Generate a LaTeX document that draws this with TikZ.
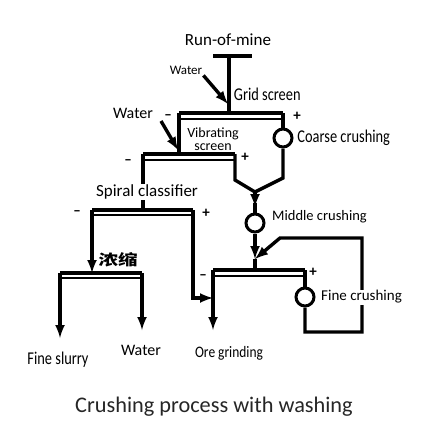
\documentclass[tikz,border=0pt]{standalone}
\usepackage{fontspec}
\setmainfont{Carlito}
\newfontfamily\cjk{Noto Sans CJK SC}
\usepackage{tikz}
\usepackage{xcolor}
\usetikzlibrary{arrows,positioning}

\tikzset{
    flow/.style={line width=3.4pt, line join=miter},
    feed/.style={flow, -latex},
    deck/.style={line width=2pt},
    crusher/.style={circle, draw, line width=3pt, fill=white, minimum size=18pt, inner sep=0pt},
    lbl/.style={inner sep=1pt, fill=white},
    narrow/.style={lbl, font=\fontsize{18}{18}\selectfont, xscale=0.8},
    sign/.style={inner sep=0pt, font=\fontsize{15}{15}\selectfont\bfseries}
}

\begin{document}
\begin{tikzpicture}[x=1pt,y=1pt]
            \useasboundingbox (0,0) rectangle (434,-437);

            \node[font=\fontsize{17}{17}\selectfont] (rom) at (228,-40) {Run-of-mine};
            \coordinate (romL) at (213,-56);
            \coordinate (romR) at (252,-56);
            \coordinate (rom0) at (229,-56);
            \draw[flow] (romL) -- (romR);

            \coordinate (gridL) at (179,-113);
            \coordinate (gridR) at (283,-113);
            \coordinate (grid0) at (229,-113);
            \draw[flow] (gridL) -- (gridR);
            \draw[deck] ([yshift=-6pt]gridL) -- ([yshift=-6pt]gridR);
            \draw[flow] (rom0) -- (grid0);
            \node[narrow, anchor=west] (gridtxt) at (233,-94) {Grid screen};
            \node[font=\fontsize{13}{13}\selectfont, inner sep=1pt] (water1) at (186,-70) {Water};
            \draw[feed] (water1.south east) -- (228,-104);
            \node[sign] (gridplus) at (297,-116) {+};
            \node[sign] (gridminus) at (168,-117) {--};

            \node[font=\fontsize{16}{16}\selectfont, inner sep=1pt] (water2) at (133,-113) {Water};
            \draw[feed] (161,-121) -- (178,-150);

            \node[crusher] (coarse) at (283,-138) {};
            \node[narrow, anchor=west] (coarsetxt) at ([xshift=3pt]coarse.east) {Coarse crushing};

            \coordinate (vibL) at (143,-154);
            \coordinate (vibR) at (235,-154);
            \draw[flow] (vibL) -- (vibR);
            \draw[deck] ([yshift=-6pt]vibL) -- ([yshift=-6pt]vibR);
            \draw[flow] (gridL) -- (gridL |- vibL);
            \node[align=center, font=\fontsize{14}{13.5}\selectfont, inner sep=0pt] (vibtxt) at (213,-139) {Vibrating\\screen};
            \node[sign] (vibplus) at (245,-157) {+};
            \node[sign] (vibminus) at (128,-162) {--};

            \coordinate (hop) at (255,-192);
            \draw[flow] (gridR) -- (coarse);
            \draw[flow] (coarse) -- (283,-178) -- (hop);
            \draw[flow] (vibR) -- (235,-180) -- (hop);

            \node[crusher] (middle) at (255,-223) {};
            \node[font=\fontsize{14.5}{14.5}\selectfont, anchor=west, inner sep=1pt] (middletxt) at (271,-217) {Middle crushing};
            \draw[feed] (hop) -- (255,-207);
            \draw[flow] (255,-203) -- (middle);

            \coordinate (fineL) at (213,-270);
            \coordinate (fineR) at (305,-270);
            \coordinate (fine0) at (255,-270);
            \coordinate (join) at (255,-259);
            \draw[flow] (fineL) -- (fineR);
            \draw[deck] ([yshift=-6pt]fineL) -- ([yshift=-6pt]fineR);
            \draw[feed] (middle) -- (join);
            \draw[flow] (join) -- (fine0);
            \node[sign] (fineplus) at (313,-272) {+};
            \node[sign] (fineminus) at (203,-277) {--};

            \node[crusher] (finec) at (305,-297) {};
            \draw[flow] (fineR) -- (finec);
            \draw[feed] (finec) -- (305,-332) -- (362,-332) -- (362,-238) -- (280,-238) -- (join);
            \node[lbl, font=\fontsize{15}{15}\selectfont, anchor=west] (finetxt) at (320,-297) {Fine crushing};

            \coordinate (spirL) at (92,-210);
            \coordinate (spirR) at (193,-210);
            \draw[flow] (vibL) -- (vibL |- spirL);
            \draw[flow] (spirL) -- (spirR);
            \draw[deck] ([yshift=-5pt]spirL) -- ([yshift=-5pt]spirR);
            \node[lbl, font=\fontsize{17}{17}\selectfont] (spirtxt) at (147,-192) {Spiral classifier};
            \node[sign] (spirplus) at (206,-213) {+};
            \node[sign] (spirminus) at (77,-213) {--};
            \coordinate (sand) at (213,-298);
            \draw[feed] (spirR) -- (spirR |- sand) -- (sand);

            \coordinate (grind) at (213,-330);
            \draw[feed] (fineL) -- (grind);
            \node[narrow, font=\fontsize{16}{16}\selectfont, xscale=1.05] (grindtxt) at (229,-353) {Ore grinding};

            \coordinate (thkL) at (60,-273);
            \coordinate (thkR) at (142,-273);
            \draw[feed] (spirL) -- (92,-273);
            \draw[flow] (thkL) -- (thkR);
            \draw[deck] ([yshift=-5pt]thkL) -- ([yshift=-5pt]thkR);
            \node[font=\cjk\bfseries\fontsize{15}{15}\selectfont, xscale=1.3, inner sep=0pt] (thktxt) at (118,-260) {浓缩};

            \coordinate (slurry) at (60,-338);
            \coordinate (water3) at (142,-330);
            \draw[feed] (thkL) -- (slurry);
            \draw[feed] (thkR) -- (water3);
            \node[narrow] (slurrytxt) at (58,-360) {Fine slurry};
            \node[font=\fontsize{16}{16}\selectfont, inner sep=1pt] (watertxt) at (141,-350) {Water};

            \node[font=\fontsize{22.3}{22.3}\selectfont, text=black!85] (title) at (214,-407) {Crushing process with washing};
        \end{tikzpicture}
\end{document}
